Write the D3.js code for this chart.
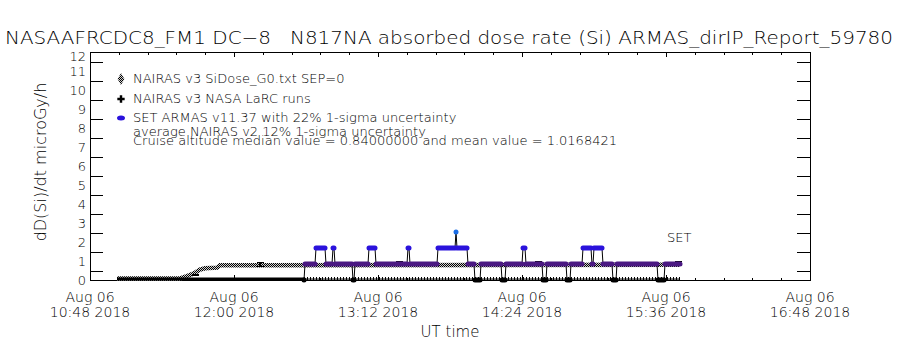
<!DOCTYPE html>
<html>
<head>
<meta charset="utf-8">
<script src="https://cdn.jsdelivr.net/npm/d3@7"></script>
<style>
  body { margin: 0; background: #fff; }
  svg { display: block; font-family: "DejaVu Sans", sans-serif; font-weight: 200; }
  .axis path, .axis line { stroke: #000; shape-rendering: crispEdges; }
  .title { white-space: pre; }
</style>
</head>
<body>
<div id="chart"></div>
<script>
// x axis labels (UT, Aug 06 2018)
const tickTimes = ["10:48", "12:00", "13:12", "14:24", "15:36", "16:48"];
const yTickValues = [0, 1, 2, 3, 4, 5, 6, 7, 8, 9, 10, 11, 12];

// NAIRAS v3 SiDose_G0 (microGy/h)
const g0Times = ["11:01:30", "11:33", "11:36:30", "11:40", "11:43", "11:45:30", "11:51:30", "11:53", "15:43"];
const g0Dose = [0.08, 0.08, 0.2, 0.35, 0.55, 0.62, 0.65, 0.78, 0.8];

// NAIRAS v3 NASA LaRC runs
const larcTimes = ["11:01:30", "12:35", "15:43"];
const larcDose = [0.05, 0.05, 0.05];

// SET ARMAS v11.37, runs of constant dose rate
const armasStart = ["12:35", "12:35:30", "12:41", "12:46", "12:49:30", "12:50:30", "12:59:30", "13:00:30", "13:07:30", "13:11", "13:27", "13:28", "13:42", "13:51", "13:51:30", "13:57", "14:00:30", "14:03:30", "14:14", "14:16", "14:24:30", "14:26", "14:34:30", "14:36:30", "14:46:30", "14:48:30", "14:54:30", "14:59", "15:00", "15:04:30", "15:09:30", "15:11:30", "15:32", "15:35:30"];
const armasEnd = ["12:35", "12:40:30", "12:45:30", "12:49", "12:50", "12:59", "13:00", "13:07", "13:10:30", "13:26:30", "13:27:30", "13:41:30", "13:50:30", "13:51", "13:56:30", "14:00", "14:03", "14:13:30", "14:15:30", "14:24", "14:25:30", "14:34", "14:36", "14:46", "14:48", "14:54", "14:58:30", "14:59:30", "15:04", "15:09", "15:11", "15:31:30", "15:35", "15:43"];
const armasDose = [0, 0.84, 1.68, 0.84, 1.68, 0.84, 0, 0.84, 1.68, 0.84, 1.68, 0.84, 1.68, 2.52, 1.68, 0.84, 0, 0.84, 0, 0.84, 1.68, 0.84, 0, 0.84, 0, 0.84, 1.68, 0.84, 1.68, 0.84, 0, 0.84, 0, 0.84];

// average NAIRAS v2 error bars
const errTimes = ["11:40:30", "12:13", "13:22:30", "14:32", "15:42"];
const errDose = [0.25, 0.8, 0.85, 0.85, 0.85];

const legendLabels = [
  "NAIRAS v3 SiDose_G0.txt SEP=0",
  "NAIRAS v3 NASA LaRC runs",
  "SET ARMAS v11.37 with 22% 1-sigma uncertainty"
];
const noteLabels = [
  "average NAIRAS v2 12% 1-sigma uncertainty",
  "Cruise altitude median value = 0.84000000 and mean value = 1.0168421"
];
const titleText = "NASAAFRCDC8_FM1 DC\u22128   N817NA absorbed dose rate (Si) ARMAS_dirIP_Report_59780";

const doseColor = (v) => (v >= 2.5 ? "#1c6ee6" : v >= 1.6 ? "#2a12dc" : v > 0.5 ? "#4a1882" : "#000");

const parseTime = (s) => new Date(`2018-08-06T${s.length === 5 ? s + ":00" : s}Z`);

const width = 900;
const height = 350;
const margin = { top: 52, right: 90, bottom: 70, left: 90 };

const svg = d3
  .select("#chart")
  .append("svg")
  .attr("width", width)
  .attr("height", height);

const defs = svg.append("defs");
const dither = defs
  .append("pattern")
  .attr("id", "dither")
  .attr("width", 2)
  .attr("height", 2)
  .attr("patternUnits", "userSpaceOnUse");
dither.append("rect").attr("width", 2).attr("height", 2).attr("fill", "#d0d0d0");
dither.append("rect").attr("width", 1).attr("height", 1).attr("fill", "#000");
dither.append("rect").attr("x", 1).attr("y", 1).attr("width", 1).attr("height", 1).attr("fill", "#000");

const x = d3
  .scaleUtc()
  .domain([parseTime(tickTimes[0]), parseTime(tickTimes[tickTimes.length - 1])])
  .range([margin.left, width - margin.right]);

const y = d3
  .scaleLinear()
  .domain([0, 12])
  .range([height - margin.bottom, margin.top]);

const majorTicks = tickTimes.map(parseTime);
const minorTicks = [];
majorTicks.slice(1).forEach((t, i) => {
  const t0 = majorTicks[i];
  d3.range(1, 5).forEach((k) => minorTicks.push(new Date(+t0 + ((t - t0) * k) / 5)));
});
const halfTicks = d3.range(0.5, 12, 1);

// frame + axes
svg
  .append("rect")
  .attr("x", x.range()[0])
  .attr("y", y.range()[1])
  .attr("width", x.range()[1] - x.range()[0])
  .attr("height", y.range()[0] - y.range()[1])
  .attr("fill", "none")
  .attr("stroke", "#000")
  .attr("shape-rendering", "crispEdges");

[
  [d3.axisBottom, y(0)],
  [d3.axisTop, y(12)]
].forEach(([axisFn, pos]) => {
  svg
    .append("g")
    .attr("class", "axis")
    .attr("transform", `translate(0,${pos})`)
    .call(axisFn(x).tickValues(majorTicks).tickSize(-5).tickFormat(""))
    .call((g) => g.select(".domain").remove());
  svg
    .append("g")
    .attr("class", "axis")
    .attr("transform", `translate(0,${pos})`)
    .call(axisFn(x).tickValues(minorTicks).tickSize(-2.5).tickFormat(""))
    .call((g) => g.select(".domain").remove());
});

[
  [d3.axisLeft, x.range()[0]],
  [d3.axisRight, x.range()[1]]
].forEach(([axisFn, pos]) => {
  svg
    .append("g")
    .attr("class", "axis")
    .attr("transform", `translate(${pos},0)`)
    .call(axisFn(y).tickValues(halfTicks).tickSize(-13).tickFormat(""))
    .call((g) => g.select(".domain").remove());
});

// x tick labels
const xLabels = svg
  .append("g")
  .attr("font-size", 14)
  .attr("text-anchor", "middle")
  .selectAll("g")
  .data(majorTicks)
  .join("g")
  .attr("transform", (d) => `translate(${x(d)},0)`);
xLabels.append("text").attr("y", y(0) + 22).text(d3.utcFormat("%b %d"));
xLabels.append("text").attr("y", y(0) + 37).text(d3.utcFormat("%H:%M %Y"));

// y tick labels
svg
  .append("g")
  .attr("font-size", 13)
  .attr("text-anchor", "end")
  .selectAll("text")
  .data(yTickValues)
  .join("text")
  .attr("x", x.range()[0] - 4)
  .attr("y", (d) => Math.max(y(d) + 4.5, 61))
  .text((d) => d);

svg
  .append("text")
  .attr("x", width / 2)
  .attr("y", 337)
  .attr("font-size", 15)
  .attr("text-anchor", "middle")
  .text("UT time");

svg
  .append("text")
  .attr("transform", `translate(46,${(y(0) + y(12)) / 2 - 4}) rotate(-90)`)
  .attr("font-size", 16)
  .attr("text-anchor", "middle")
  .text("dD(Si)/dt microGy/h");

svg
  .append("text")
  .attr("class", "title")
  .attr("x", 5)
  .attr("y", 44)
  .attr("font-size", 18)
  .attr("textLength", 888)
  .attr("lengthAdjust", "spacingAndGlyphs")
  .text(titleText);

// NAIRAS G0 (dithered band of diamonds)
const g0 = g0Times.map((t, i) => ({ date: parseTime(t), dose: g0Dose[i] }));
const line = d3.line().x((d) => x(d.date)).y((d) => y(d.dose));
svg
  .append("path")
  .datum(g0)
  .attr("fill", "none")
  .attr("stroke", "url(#dither)")
  .attr("stroke-width", 4.5)
  .attr("d", line);

// LaRC runs (+ symbols)
const larc = larcTimes.map((t, i) => ({ date: parseTime(t), dose: larcDose[i] }));
svg
  .append("path")
  .datum(larc.slice(0, 2))
  .attr("fill", "none")
  .attr("stroke", "#000")
  .attr("stroke-width", 3)
  .attr("d", line);
svg
  .append("path")
  .datum(larc)
  .attr("fill", "none")
  .attr("stroke", "#000")
  .attr("stroke-width", 1)
  .attr("d", line);
svg
  .append("path")
  .datum(larc.slice(1))
  .attr("fill", "none")
  .attr("stroke", "#000")
  .attr("stroke-width", 4)
  .attr("stroke-dasharray", "1 2")
  .attr("d", line);

// NAIRAS v2 error bars
const errs = errTimes.map((t, i) => ({ date: parseTime(t), dose: errDose[i] }));
const errG = svg.append("g").attr("stroke", "#000").attr("shape-rendering", "crispEdges");
errs.forEach((d) => {
  const cx = x(d.date);
  const lo = y(d.dose * 0.88);
  const hi = y(d.dose * 1.12);
  errG.append("line").attr("x1", cx).attr("x2", cx).attr("y1", lo).attr("y2", hi).attr("stroke-width", 1.5);
  errG.append("line").attr("x1", cx - 3.5).attr("x2", cx + 3.5).attr("y1", lo).attr("y2", lo);
  errG.append("line").attr("x1", cx - 3.5).attr("x2", cx + 3.5).attr("y1", hi).attr("y2", hi);
});

// ARMAS: connecting line then symbol runs
const runs = armasStart.map((t, i) => ({
  start: parseTime(t),
  end: parseTime(armasEnd[i]),
  dose: armasDose[i]
}));
const armasPoints = runs.flatMap((r) => [
  { date: r.start, dose: r.dose },
  { date: r.end, dose: r.dose }
]);
svg
  .append("path")
  .datum(armasPoints)
  .attr("fill", "none")
  .attr("stroke", "#000")
  .attr("stroke-width", 1)
  .attr("d", line);
svg
  .append("g")
  .selectAll("line")
  .data(runs)
  .join("line")
  .attr("x1", (d) => x(d.start))
  .attr("x2", (d) => x(d.end))
  .attr("y1", (d) => y(d.dose))
  .attr("y2", (d) => y(d.dose))
  .attr("stroke", (d) => doseColor(d.dose))
  .attr("stroke-width", 5)
  .attr("stroke-linecap", "round");

svg
  .append("text")
  .attr("x", x(runs[runs.length - 1].end) - 13)
  .attr("y", 242)
  .attr("font-size", 13)
  .text("SET");

// legend
const legend = svg.append("g").attr("font-size", 13);
legend
  .selectAll("text.entry")
  .data(legendLabels)
  .join("text")
  .attr("class", "entry")
  .attr("x", 133)
  .attr("y", (d, i) => 83 + i * 19.5)
  .text((d) => d);
legend
  .append("path")
  .attr("d", d3.symbol(d3.symbolDiamond, 40)())
  .attr("transform", "translate(121,79)")
  .attr("fill", "url(#dither)");
legend
  .append("path")
  .attr("d", d3.symbol(d3.symbolCross, 30)())
  .attr("transform", "translate(121,99)")
  .attr("fill", "#000");
legend
  .append("ellipse")
  .attr("cx", 121)
  .attr("cy", 118)
  .attr("rx", 4)
  .attr("ry", 2.5)
  .attr("fill", doseColor(1.68));
legend
  .selectAll("text.note")
  .data(noteLabels)
  .join("text")
  .attr("class", "note")
  .attr("x", 133)
  .attr("y", (d, i) => 136 + i * 9)
  .text((d) => d);
</script>
</body>
</html>
